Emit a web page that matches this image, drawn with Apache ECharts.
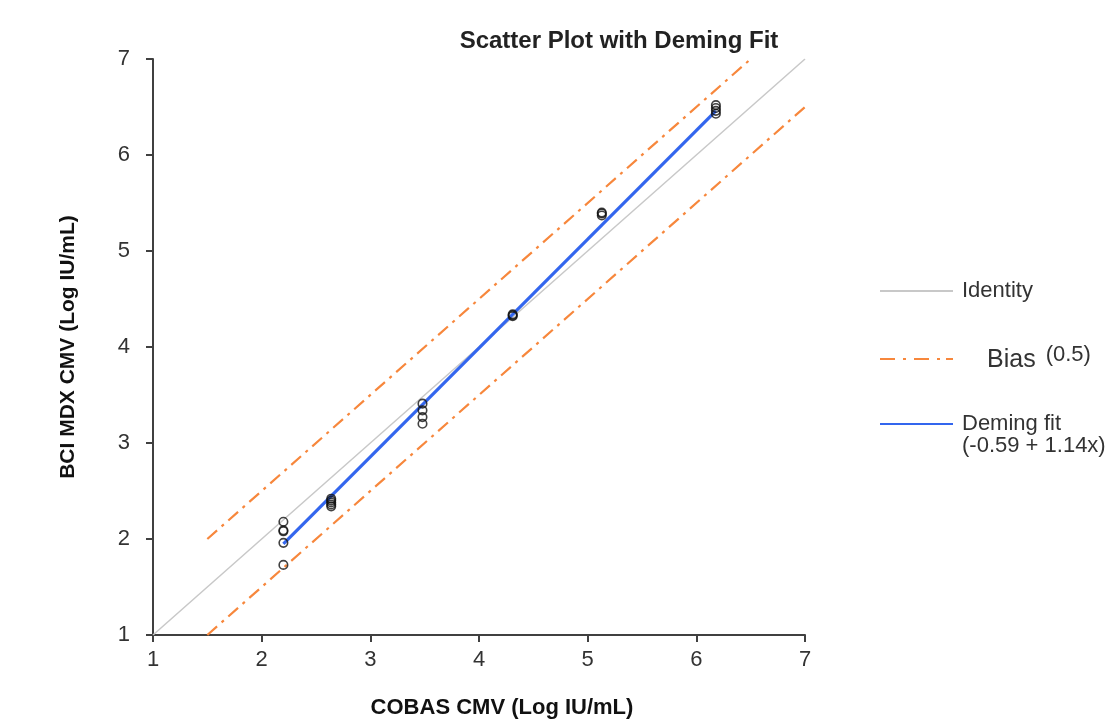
<!DOCTYPE html>
<html>
<head>
<meta charset="utf-8">
<title>Scatter Plot with Deming Fit</title>
<script src="https://cdn.jsdelivr.net/npm/echarts@6/dist/echarts.min.js"></script>
</head>
<body style="margin:0;background:#fff;">
<div id="chart" style="width:1116px;height:724px;"></div>
<script>
// measured pairs (COBAS, BCI MDX)
var cobasX = [2.2, 2.2, 2.2, 2.2, 2.2,
              2.64, 2.64, 2.64, 2.64, 2.64,
              3.48, 3.48, 3.48, 3.48,
              4.31, 4.31, 4.31,
              5.13, 5.13, 5.13,
              6.18, 6.18, 6.18, 6.18];
var mdxY = [2.18, 2.09, 2.08, 1.96, 1.73,
            2.42, 2.40, 2.38, 2.36, 2.34,
            3.41, 3.34, 3.27, 3.20,
            4.34, 4.33, 4.32,
            5.40, 5.39, 5.37,
            6.52, 6.49, 6.46, 6.43];

// line endpoints
var identityLine = [[1, 1], [7, 7]];
var biasUpper = [[1.5, 2], [6.5, 7]];
var biasLower = [[1.5, 1], [7, 6.5]];
var demingLine = [[2.2, 1.95], [6.18, 6.46]];

var axisTicks = [1, 2, 3, 4, 5, 6, 7];

var points = [];
for (var i = 0; i < cobasX.length; i++) {
    points.push([cobasX[i], mdxY[i]]);
}

var axisCol = '#404040';
var orange = '#f7873c';
var font = 'Liberation Sans';

// legend icons drawn as plain paths (no symbol in the middle)
var solidIcon = 'path://M0,0h73v2h-73z';
var dashDotIcon = 'path://M0,0h15v2h-15zM23,0h3v2h-3zM34,0h15v2h-15zM57,0h3v2h-3zM66,0h7v2h-7z';

var chart = echarts.init(document.getElementById('chart'));
chart.setOption({
    animation: false,
    title: {
        text: 'Scatter Plot with Deming Fit',
        left: 614, top: 24, textAlign: 'center',
        textStyle: {fontFamily: font, fontSize: 24, fontWeight: 'bold', color: '#222'}
    },
    grid: {left: 153, right: 311, top: 59, bottom: 86},
    legend: [
        {
            data: [{name: 'Identity', icon: solidIcon}], left: 880, top: 280, padding: 0,
            itemWidth: 73, itemHeight: 2,
            textStyle: {fontFamily: font, fontSize: 22, color: '#333', padding: [0, 0, 0, 4]}
        },
        {
            data: [{name: 'Bias', icon: dashDotIcon}], left: 880, top: 344, padding: 0,
            itemWidth: 73, itemHeight: 2,
            formatter: function () { return '{b|Bias}{s|(0.5)}'; },
            textStyle: {
                rich: {
                    b: {fontFamily: font, fontSize: 25, color: '#333', padding: [3, 10, 0, 29]},
                    s: {fontFamily: font, fontSize: 22, color: '#333', padding: [0, 0, 8, 0]}
                }
            }
        },
        {
            // blank first line keeps the icon level with "Deming fit"
            data: [{name: 'Deming fit', icon: solidIcon}], left: 880, top: 391, padding: 0,
            itemWidth: 73, itemHeight: 3,
            formatter: function () { return ' \nDeming fit\n(-0.59 + 1.14x)'; },
            textStyle: {fontFamily: font, fontSize: 22, color: '#333', lineHeight: 22, padding: [0, 0, 0, 4]}
        }
    ],
    xAxis: {
        type: 'value', min: 1, max: 7, interval: 1,
        name: 'COBAS CMV (Log IU/mL)', nameLocation: 'middle', nameGap: 62,
        nameTextStyle: {fontFamily: font, fontSize: 22, fontWeight: 'bold', color: '#111', padding: [0, 0, 0, 46]},
        axisLine: {show: true, lineStyle: {color: axisCol, width: 2}},
        axisTick: {show: true, length: 7, lineStyle: {color: axisCol, width: 2}},
        axisLabel: {fontFamily: font, fontSize: 22, color: '#333', margin: 14,
            formatter: function (v) { return axisTicks.indexOf(v) >= 0 ? String(v) : ''; }},
        splitLine: {show: false}
    },
    yAxis: {
        type: 'value', min: 1, max: 7, interval: 1,
        name: 'BCI MDX CMV (Log IU/mL)', nameLocation: 'middle', nameGap: 74,
        nameTextStyle: {fontFamily: font, fontSize: 21, fontWeight: 'bold', color: '#111', padding: [10, 0, 0, 0]},
        axisLine: {show: true, lineStyle: {color: axisCol, width: 2}},
        axisTick: {show: true, length: 7, lineStyle: {color: axisCol, width: 2}},
        axisLabel: {fontFamily: font, fontSize: 22, color: '#333', margin: 23,
            formatter: function (v) { return axisTicks.indexOf(v) >= 0 ? String(v) : ''; }},
        splitLine: {show: false}
    },
    series: [
        {
            name: 'Identity', type: 'line', data: identityLine, symbol: 'none',
            lineStyle: {color: '#c8c8c8', width: 1.5}, itemStyle: {color: '#c8c8c8'}, z: 1
        },
        {
            name: 'Bias', type: 'line', data: biasUpper, symbol: 'none',
            lineStyle: {color: orange, width: 2.2, type: [13, 6, 3, 6]}, itemStyle: {color: orange}, z: 2
        },
        {
            name: 'Bias', type: 'line', data: biasLower, symbol: 'none',
            lineStyle: {color: orange, width: 2.2, type: [13, 6, 3, 6]}, itemStyle: {color: orange}, z: 2
        },
        {
            name: 'Deming fit', type: 'line', data: demingLine, symbol: 'none',
            lineStyle: {color: '#3366ee', width: 3.2}, itemStyle: {color: '#3366ee'}, z: 3
        },
        {
            name: 'Data', type: 'scatter', data: points, symbol: 'circle', symbolSize: 8.5,
            itemStyle: {color: 'rgba(255,255,255,0)', borderColor: '#111', borderWidth: 1.6}, z: 4
        }
    ]
});
</script>
</body>
</html>
